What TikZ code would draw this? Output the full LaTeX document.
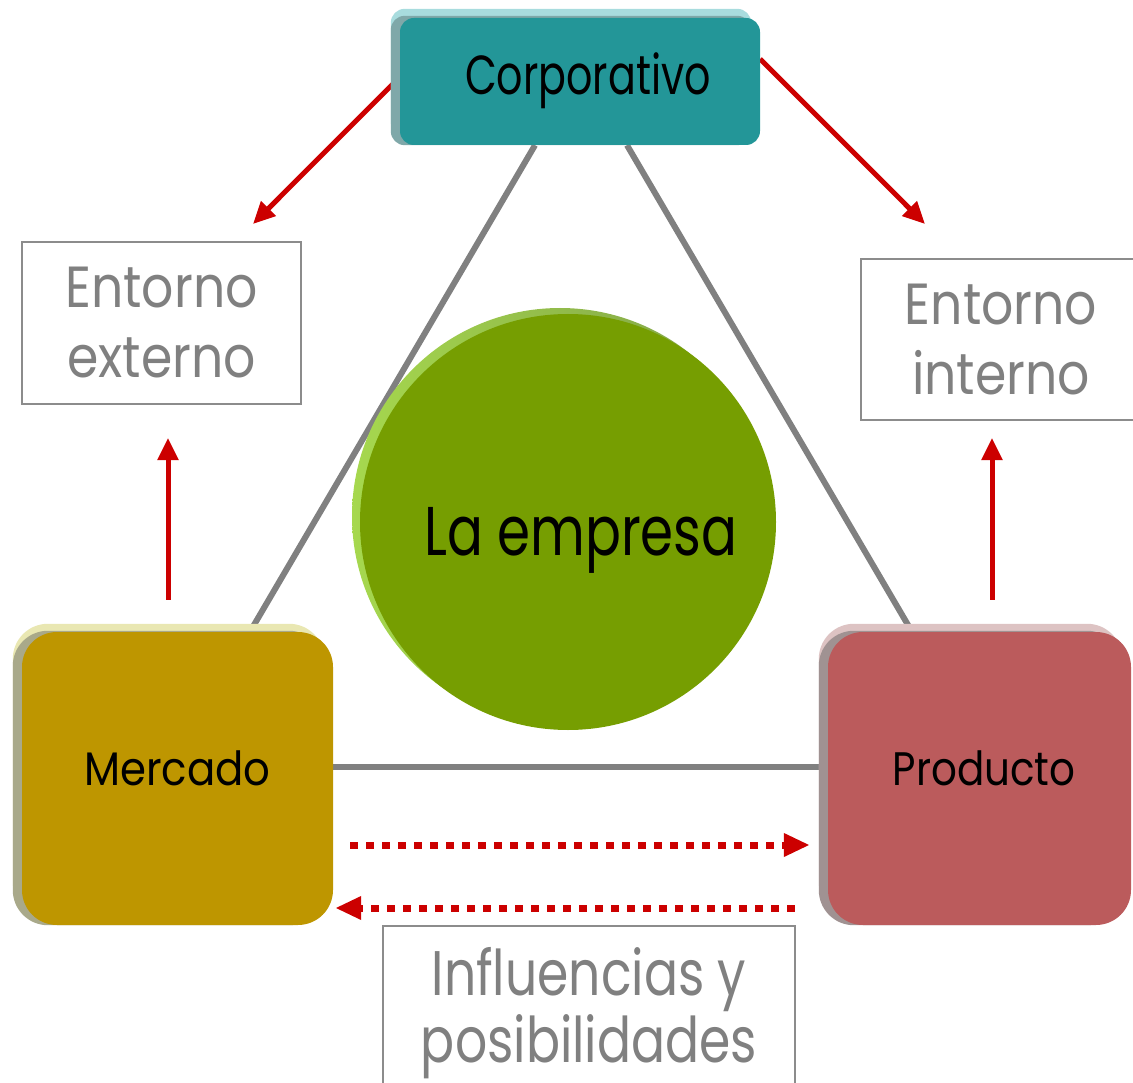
\documentclass[tikz,border=0pt]{standalone}
\usepackage{fontspec}
\setmainfont{Poppins}
\usepackage{graphicx}
\usetikzlibrary{arrows.meta,calc}
\definecolor{teal1}{HTML}{239698}
\definecolor{tealtop}{HTML}{A8DCDE}
\definecolor{tealside}{HTML}{7FA8A9}
\definecolor{gold1}{HTML}{BE9600}
\definecolor{goldtop}{HTML}{E9E7B2}
\definecolor{goldside}{HTML}{A9A98A}
\definecolor{rose1}{HTML}{BB5B5C}
\definecolor{rosetop}{HTML}{DDC3C3}
\definecolor{roseside}{HTML}{A09292}
\definecolor{green1}{HTML}{769E01}
\definecolor{greenrim}{HTML}{A6D84E}
\definecolor{greenrimtop}{HTML}{7E9E48}
\definecolor{linegray}{HTML}{808080}
\definecolor{arrowred}{HTML}{CC0000}
\definecolor{boxgray}{HTML}{8C8C8C}
\definecolor{textgray}{HTML}{808080}
\newcommand{\sqz}[2][0.8]{\scalebox{#1}[1]{#2}}
\pgfdeclarelayer{lines}
\pgfdeclarelayer{bevel}
\pgfsetlayers{lines,bevel,main}
\tikzset{
  face/.style={draw=none, rounded corners=#1, inner sep=0pt, text=black},
  obox/.style={draw=boxgray, line width=2pt, fill=white, text=textgray, align=center, inner sep=0pt},
  gline/.style={draw=linegray, line width=6pt},
  rarrow/.style={draw=arrowred, line width=5pt, -{Triangle[length=22pt,width=20pt]}},
  darrow/.style={draw=arrowred, line width=7pt, dash pattern=on 8pt off 8pt, -{Triangle[length=26pt,width=22pt]}},
}
\begin{document}
\begin{tikzpicture}[x=1pt,y=-1pt]
\useasboundingbox (0,0) rectangle (1133,1083);

% faces
\node[face=14pt, fill=teal1, minimum width=360pt, minimum height=127pt,
      text height=27pt, text depth=0pt,
      font=\fontsize{55}{60}\selectfont] (corp) at (580,81.5) {\hspace*{16pt}\sqz[0.75]{Corporativo}};
\node[face=35pt, fill=gold1, minimum width=311pt, minimum height=293pt,
      text height=13pt, text depth=0pt,
      font=\fontsize{47}{50}\selectfont] (merc) at (177.5,778.5) {\sqz[0.89]{Mercado}};
\node[face=35pt, fill=rose1, minimum width=303pt, minimum height=293pt,
      text height=13pt, text depth=0pt,
      font=\fontsize{47}{50}\selectfont] (prod) at (979.5,778.5) {\hspace*{9pt}\sqz[0.86]{Producto}};
\node[circle, fill=green1, minimum size=416pt, inner sep=0pt, text=black,
      text height=66pt, text depth=0pt,
      font=\fontsize{69}{70}\selectfont] (emp) at (568,522) {\hspace*{26pt}\sqz[0.77]{La empresa}};

% text boxes
\node[obox, minimum width=279pt, minimum height=162pt, font=\fontsize{58}{70}\selectfont]
  (ext) at (161.5,323) {\sqz[0.87]{Entorno}\\\sqz[0.87]{externo}};
\node[obox, minimum width=280pt, minimum height=161pt, font=\fontsize{58}{70}\selectfont]
  (int) at (1001,339.5) {\sqz[0.87]{Entorno}\\\sqz[0.87]{interno}};
\node[obox, anchor=north, minimum width=412pt, inner ysep=21pt, font=\fontsize{63}{67}\selectfont]
  (infl) at (589,925) {\sqz{Influencias y}\\\sqz{posibilidades}};

% bevels
\begin{pgfonlayer}{bevel}
\fill[tealtop, rounded corners=14pt] ($(corp.north west)+(-9,-9)$) rectangle ($(corp.south east)+(-9,-9)$);
\fill[tealside, rounded corners=14pt] ($(corp.north west)+(-9,-2)$) rectangle ($(corp.south east)+(-9,0)$);
\fill[goldtop, rounded corners=35pt] ($(merc.north west)+(-9,-8)$) rectangle ($(merc.south east)+(-9,-8)$);
\fill[goldside, rounded corners=35pt] ($(merc.north west)+(-9,-1)$) rectangle ($(merc.south east)+(-9,0)$);
\fill[rosetop, rounded corners=35pt] ($(prod.north west)+(-9,-8)$) rectangle ($(prod.south east)+(-9,-8)$);
\fill[roseside, rounded corners=35pt] ($(prod.north west)+(-9,-1)$) rectangle ($(prod.south east)+(-9,0)$);
\shade[left color=greenrim, right color=greenrimtop] ($(emp.center)+(-8,-6)$) circle[radius=208pt];
\end{pgfonlayer}

% connectors
\coordinate (tipL) at (253,224);
\coordinate (tipR) at (925,224);
\begin{pgfonlayer}{lines}
\draw[gline] ([xshift=-45pt]corp.south) -- ([xshift=72.5pt]merc.north);
\draw[gline] ([xshift=47pt]corp.south) -- ([xshift=-67.5pt]prod.north);
\draw[gline] ([yshift=11.5pt]merc.east) -- ([yshift=11.5pt]prod.west);
\draw[rarrow] ([yshift=4.5pt]corp.west) -- (tipL);
\draw[rarrow] ([yshift=22.5pt]corp.east) -- (tipR);
\end{pgfonlayer}
\draw[rarrow] ($(merc.north)+(-9.5,-32)$) -- ($(ext.south)+(6.5,33)$);
\draw[rarrow] ($(prod.north)+(12.5,-32)$) -- ($(int.south)+(-9,17)$);
\draw[darrow] ($(merc.east)+(17,66.5)$) -- ($(prod.west)+(-18,66.5)$);
\draw[darrow] ($(prod.west)+(-33,129.5)$) -- ($(merc.east)+(2,129.5)$);
\end{tikzpicture}
\end{document}
